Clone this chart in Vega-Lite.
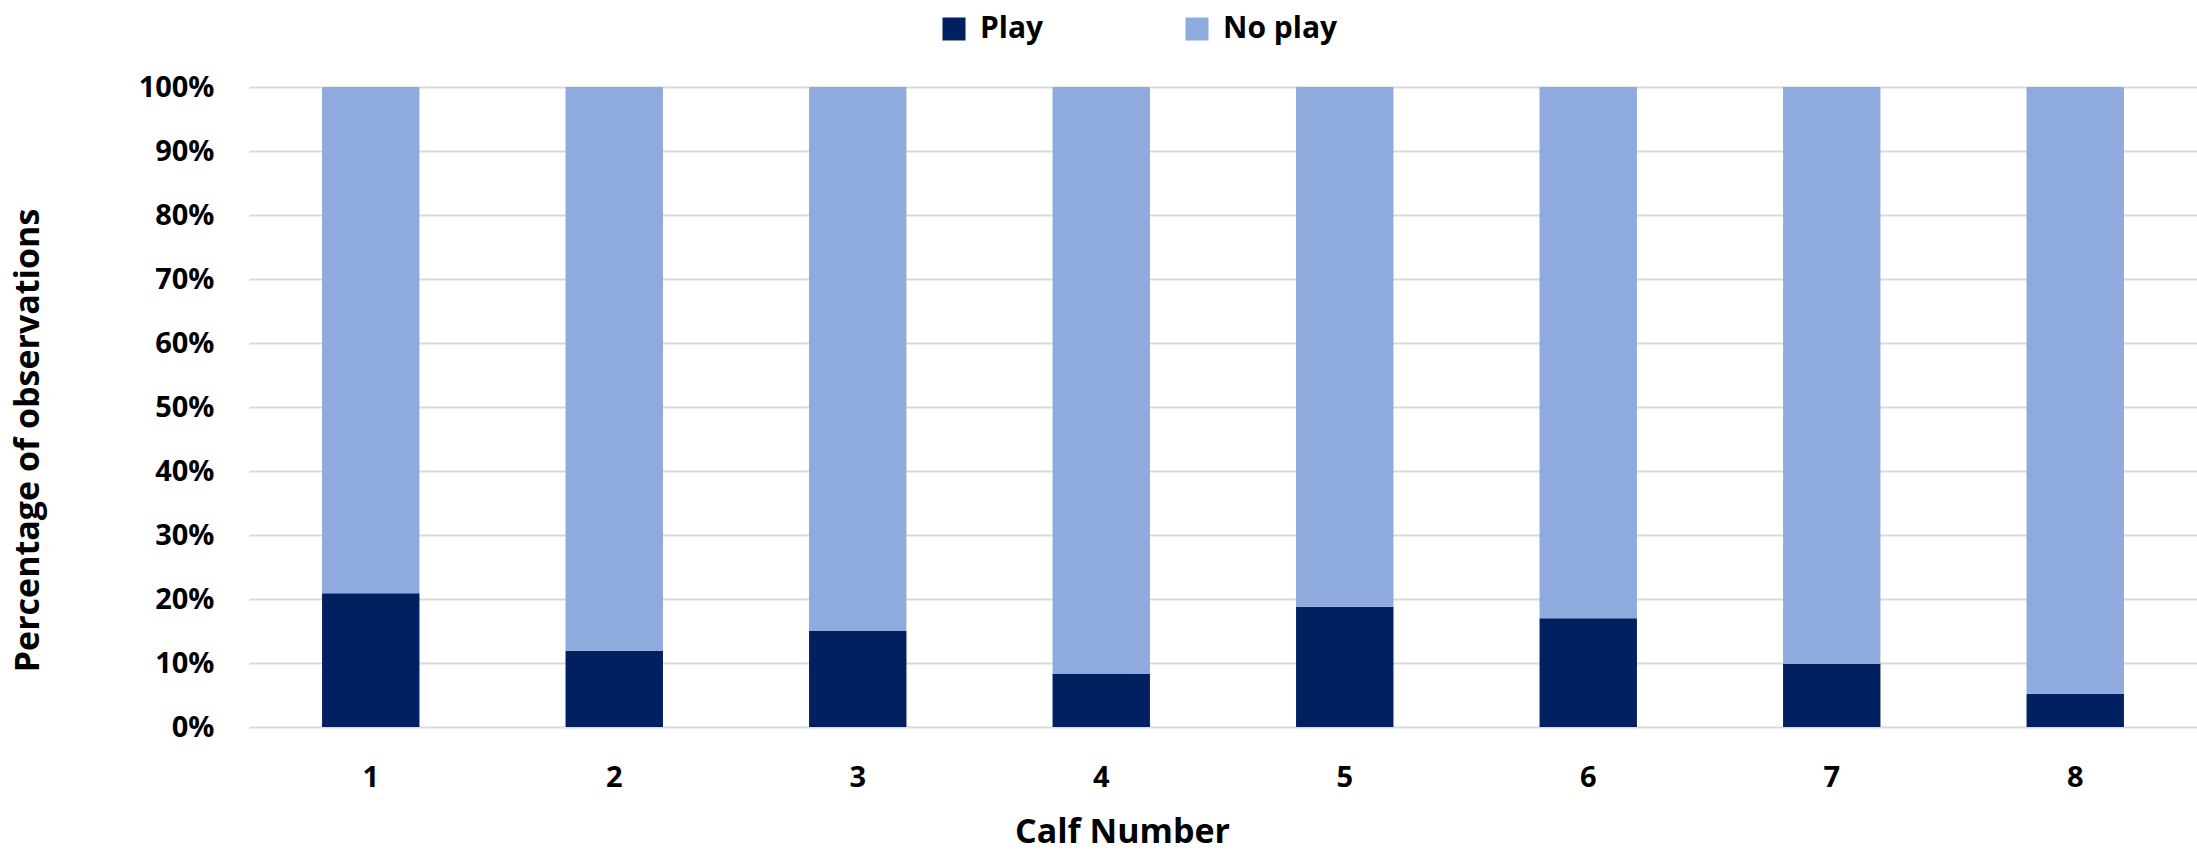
{
  "$schema": "https://vega.github.io/schema/vega-lite/v6.json",
  "width": 1948,
  "height": 640,
  "autosize": {"type": "none"},
  "padding": {"left": 249, "top": 87, "right": 0, "bottom": 124},
  "background": "white",
  "config": {
    "font": "Open Sans",
    "view": {"stroke": null}
  },
  "data": {
    "values": [
      {"calf": "1", "status": "Play", "share": 0.209},
      {"calf": "1", "status": "No play", "share": 0.791},
      {"calf": "2", "status": "Play", "share": 0.119},
      {"calf": "2", "status": "No play", "share": 0.881},
      {"calf": "3", "status": "Play", "share": 0.150},
      {"calf": "3", "status": "No play", "share": 0.850},
      {"calf": "4", "status": "Play", "share": 0.083},
      {"calf": "4", "status": "No play", "share": 0.917},
      {"calf": "5", "status": "Play", "share": 0.188},
      {"calf": "5", "status": "No play", "share": 0.812},
      {"calf": "6", "status": "Play", "share": 0.170},
      {"calf": "6", "status": "No play", "share": 0.830},
      {"calf": "7", "status": "Play", "share": 0.099},
      {"calf": "7", "status": "No play", "share": 0.901},
      {"calf": "8", "status": "Play", "share": 0.052},
      {"calf": "8", "status": "No play", "share": 0.948}
    ]
  },
  "mark": {"type": "bar"},
  "encoding": {
    "x": {
      "field": "calf",
      "type": "ordinal",
      "scale": {"paddingInner": 0.6, "paddingOuter": 0.3},
      "axis": {
        "title": "Calf Number",
        "labelAngle": 0,
        "labelFontSize": 29,
        "labelFontWeight": "bold",
        "labelColor": "#000000",
        "labelPadding": 36,
        "ticks": false,
        "domain": false,
        "titleFontSize": 34,
        "titleFontWeight": "bold",
        "titleColor": "#000000",
        "titleX": 873,
        "titleY": 115,
        "titleBaseline": "alphabetic",
        "titleAlign": "center"
      }
    },
    "y": {
      "field": "share",
      "type": "quantitative",
      "stack": "zero",
      "scale": {"domain": [0, 1], "nice": false},
      "axis": {
        "title": "Percentage of observations",
        "values": [0, 0.1, 0.2, 0.3, 0.4, 0.5, 0.6, 0.7, 0.8, 0.9, 1.0],
        "format": ".0%",
        "labelFontSize": 29,
        "labelFontWeight": "bold",
        "labelColor": "#000000",
        "labelPadding": 35,
        "ticks": false,
        "domain": false,
        "grid": true,
        "gridColor": "#d9d9d9",
        "gridWidth": 2,
        "titleFontSize": 34,
        "titleFontWeight": "bold",
        "titleColor": "#000000",
        "titleAngle": -90,
        "titleX": -221,
        "titleY": 353,
        "titleBaseline": "middle",
        "titleAlign": "center"
      }
    },
    "color": {
      "field": "status",
      "type": "nominal",
      "scale": {"domain": ["Play", "No play"], "range": ["#002060", "#8faadc"]},
      "legend": {
        "title": null,
        "orient": "none",
        "direction": "horizontal",
        "legendX": 690,
        "legendY": -73,
        "symbolType": "square",
        "symbolSize": 529,
        "symbolStrokeWidth": 0,
        "symbolOpacity": 1,
        "labelFontSize": 30,
        "labelFontWeight": "bold",
        "labelColor": "#000000",
        "labelOffset": 11,
        "columnPadding": 138
      }
    },
    "order": {"field": "status", "sort": "descending"}
  }
}
